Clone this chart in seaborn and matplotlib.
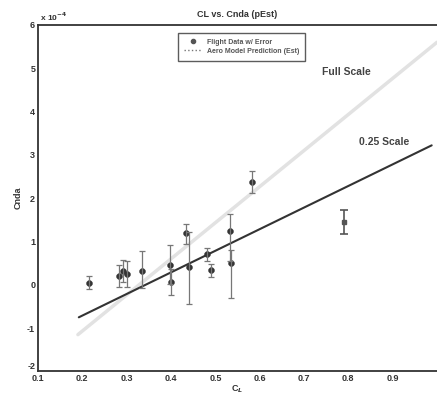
import matplotlib
matplotlib.use('Agg')
import numpy as np
import pandas as pd
import seaborn as sns
from matplotlib import pyplot as plt
from matplotlib.lines import Line2D

# flight data points (Cnda in units of 1e-4)
cl = [0.214, 0.282, 0.292, 0.300, 0.335, 0.398, 0.400, 0.434, 0.440, 0.481, 0.490, 0.533, 0.536, 0.582]
cnda = [0.05, 0.20, 0.32, 0.25, 0.32, 0.46, 0.07, 1.20, 0.41, 0.71, 0.34, 1.24, 0.50, 2.37]
err_lo = [0.15, 0.25, 0.25, 0.30, 0.40, 0.45, 0.30, 0.25, 0.85, 0.15, 0.15, 0.70, 0.80, 0.25]
err_hi = [0.15, 0.25, 0.25, 0.30, 0.45, 0.45, 0.30, 0.20, 0.80, 0.15, 0.15, 0.40, 0.30, 0.25]

# outlier (square marker)
cl_out = [0.79]
cnda_out = [1.45]
err_out = [0.27]

# model lines
cl_full = [0.19, 1.0]
cnda_full = [-1.15, 5.6]
cl_quarter = [0.192, 0.988]
cnda_quarter = [-0.75, 3.22]

sns.set_style("white")
plt.rcParams['font.family'] = ['Liberation Sans', 'DejaVu Sans']
plt.rcParams['font.weight'] = 'bold'
plt.rcParams['axes.unicode_minus'] = False

fig = plt.figure(figsize=(4.37, 3.96), dpi=100)
ax = fig.add_axes([0.087, 0.062, 0.913, 0.875])

sns.lineplot(x=cl_full, y=cnda_full, ax=ax, color='#e2e2e2', linewidth=2.5)
sns.lineplot(x=cl_quarter, y=cnda_quarter, ax=ax, color='#333333', linewidth=1.5)

ax.errorbar(cl, cnda, yerr=[err_lo, err_hi], fmt='none', ecolor='#777777',
            elinewidth=0.9, capsize=2, capthick=0.9)
df = pd.DataFrame({'cl': cl, 'cnda': cnda})
sns.scatterplot(data=df, x='cl', y='cnda', ax=ax, color='#333333', s=18,
                edgecolor='#333333', marker='o')

ax.errorbar(cl_out, cnda_out, yerr=err_out, fmt='s', color='#555555',
            markersize=3.5, elinewidth=1.2, capsize=3, capthick=1.2)

ax.set_xlim(0.1, 1.0)
ax.set_ylim(-2, 6)
ax.set_xticks([0.1, 0.2, 0.3, 0.4, 0.5, 0.6, 0.7, 0.8, 0.9])
ax.set_xticklabels(['0.1', '0.2', '0.3', '0.4', '0.5', '0.6', '0.7', '0.8', '0.9'])
ax.set_yticks([-2, -1, 0, 1, 2, 3, 4, 5, 6])
ax.tick_params(direction='in', length=3, labelsize=6.5, pad=2, colors='#333333')
# lowest y label sits just above the first x label
ax.get_yticklabels()[0].set_va('bottom')
for s in ['left', 'bottom', 'top']:
    ax.spines[s].set_color('#333333')
    ax.spines[s].set_linewidth(1.3)
ax.spines['right'].set_visible(False)

ax.set_title('CL vs. Cnda (pEst)', fontsize=6.5, fontweight='bold', pad=6, color='#333333')
ax.set_xlabel('C$_L$', fontsize=6.5, fontweight='bold', labelpad=0, color='#333333')
ax.set_ylabel('Cnda', fontsize=6.5, fontweight='bold', labelpad=3, color='#333333')
ax.text(0.0, 1.006, ' x 10$^{-4}$', transform=ax.transAxes, fontsize=6,
        fontweight='bold', color='#333333', va='bottom')

ax.text(0.741, 4.92, 'Full Scale', fontsize=7.5, fontweight='bold', color='#444444', va='center')
ax.text(0.824, 3.29, '0.25 Scale', fontsize=7.5, fontweight='bold', color='#444444', va='center')

handles = [
    Line2D([], [], marker='o', color='#555555', linestyle='none', markersize=3),
    Line2D([], [], color='#777777', linestyle=':', linewidth=1),
]
leg = ax.legend(handles, ['Flight Data w/ Error', 'Aero Model Prediction (Est)'],
                loc='upper center', bbox_to_anchor=(0.51, 0.988), fontsize=5,
                frameon=True, fancybox=False, edgecolor='#333333',
                handlelength=2.5, borderpad=0.9, labelspacing=0.3)
leg.get_frame().set_linewidth(1.0)
for t in leg.get_texts():
    t.set_color('#555555')

fig.savefig('out.png', dpi=100)
